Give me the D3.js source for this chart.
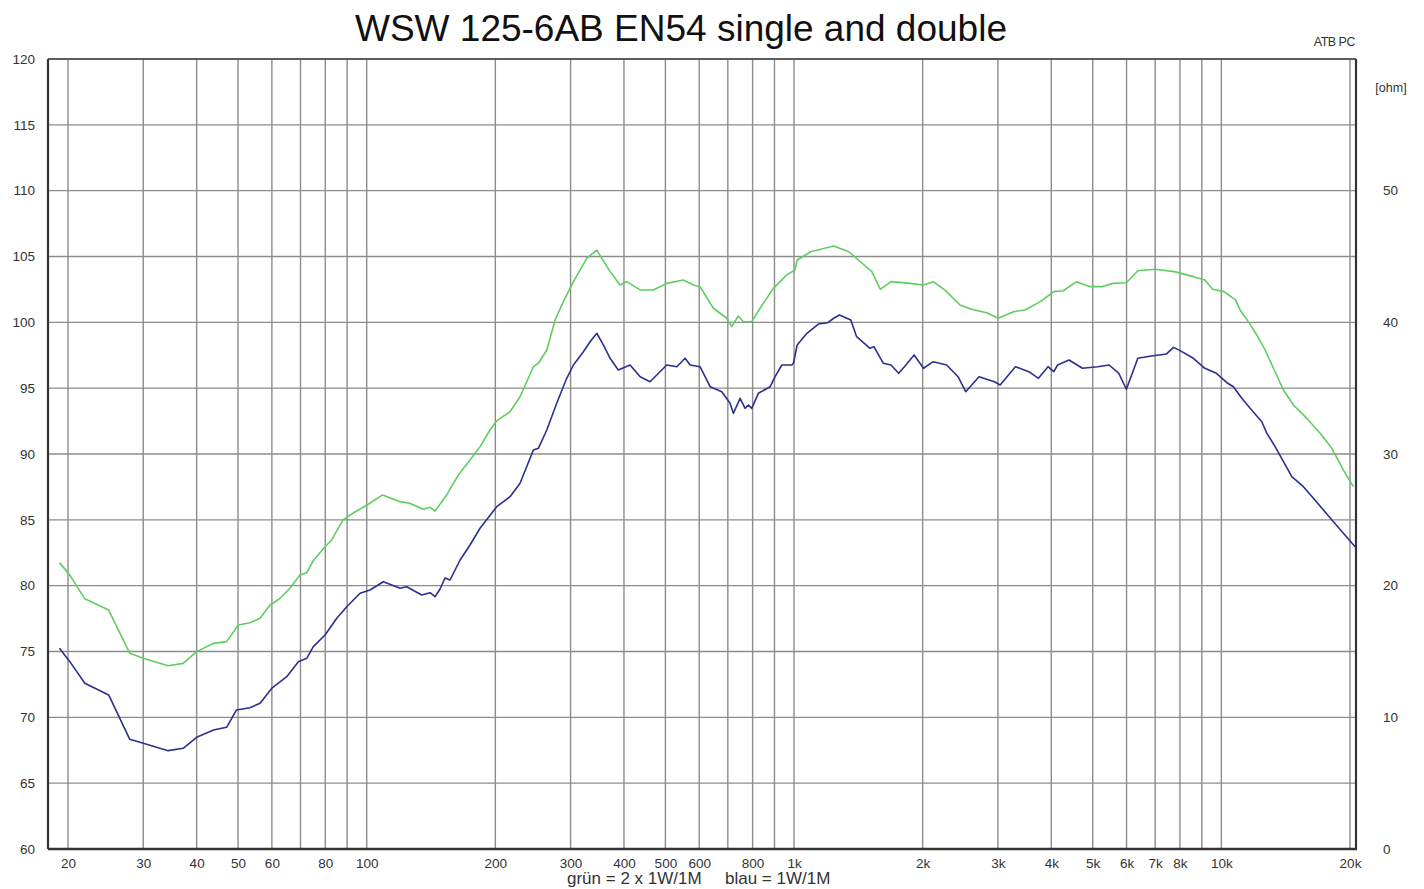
<!DOCTYPE html>
<meta charset="utf-8">
<script src="https://d3js.org/d3.v7.min.js"></script>
<style>
  body { margin: 0; background: #fff; }
  text { font-family: "Liberation Sans", Arial, sans-serif; }
</style>
<div id="chart"></div>
<script>

// frequency / level pairs (Hz, dB)
const greenFreq = [19.1, 20.2, 21.9, 24.9, 27.9, 30.0, 34.3, 37.2, 40.0, 43.8, 47.0, 50.1, 53.3, 56.3, 59.4, 62.7, 66.1, 69.8, 72.4, 75.0,
  79.9, 82.8, 88.0, 93.9, 100.2, 109, 119.7, 126, 135.7, 140.7, 144.5, 153.9, 163.9, 174.5, 184.2, 194.4, 201.5, 216.5, 228.5, 245.5,
  252.2, 263.9, 276, 288.6, 304.6, 327.3, 345.5, 371.2, 391.6, 406, 436.4, 468.6, 503.6, 550.8, 581.4, 602.6, 647.4, 695.8, 714.8, 740.8,
  761, 796.2, 832.8, 894.6, 961.6, 1005, 1017, 1094, 1238, 1344, 1430, 1521, 1592, 1687, 1869, 2009, 2117, 2252, 2446, 2602,
  2825, 3004, 3263, 3470, 3770, 4053, 4266, 4585, 4929, 5245, 5580, 5994, 6376, 6998, 7760, 8602, 9150, 9538, 10142, 10790,
  11063, 11568, 12104, 12658, 13240, 13972, 14746, 15850, 17022, 18135, 19302, 20370];
const greenDb = [81.75, 80.8, 79.0, 78.15, 74.86, 74.48, 73.92, 74.1, 74.99, 75.62, 75.75, 77.01, 77.19, 77.52, 78.53, 79.04, 79.8, 80.81, 80.99, 81.9,
  82.96, 83.47, 84.99, 85.6, 86.13, 86.89, 86.38, 86.26, 85.8, 85.95, 85.67, 86.89, 88.41, 89.55, 90.56, 91.82, 92.51, 93.21, 94.35, 96.63,
  96.89, 97.9, 100.18, 101.57, 103.09, 104.86, 105.49, 103.85, 102.84, 103.09, 102.46, 102.46, 102.96, 103.21, 102.84, 102.71, 101.07, 100.31, 99.67, 100.48,
  100.05, 100.05, 101.07, 102.58, 103.6, 103.97, 104.73, 105.36, 105.8, 105.36, 104.6, 103.85, 102.51, 103.09, 102.96, 102.84, 103.09, 102.46, 101.32, 100.99,
  100.73, 100.31, 100.81, 100.94, 101.57, 102.33, 102.4, 103.09, 102.71, 102.71, 102.96, 103.01, 103.92, 104.03, 103.85, 103.47, 103.21, 102.51, 102.33, 101.7,
  100.94, 100.05, 99.04, 97.9, 96.51, 94.86, 93.72, 92.71, 91.57, 90.43, 88.78, 87.52];

const blueFreq = [19.1, 20.2, 21.9, 24.9, 27.9, 30.0, 34.3, 37.2, 40.0, 43.8, 47.0, 49.6, 53.3, 56.3, 60.0, 65.0, 69.2, 72.4, 75.0, 79.9,
  85.1, 89.8, 96.5, 101.8, 109.4, 119.7, 124.1, 134.5, 140.7, 144.5, 148.4, 152.5, 156.7, 165.4, 174.5, 184.2, 201.5, 216.5, 228.5, 245.5,
  252.2, 263.9, 278.4, 293.8, 304.6, 321.4, 333.2, 345.5, 357.9, 371.2, 387.9, 413.4, 436.4, 460.3, 477.3, 503.6, 531.8, 556, 571.2, 602.6,
  636.3, 677.6, 708.5, 721.2, 747.8, 768.2, 781.9, 796.2, 825.3, 879.4, 903, 936.2, 987.8, 997, 1017, 1072, 1140, 1200, 1238, 1277,
  1358, 1401, 1506, 1538, 1618, 1687, 1757, 1813, 1910, 2009, 2117, 2276, 2420, 2522, 2710, 2944, 3036, 3296, 3544, 3732,
  3930, 4053, 4139, 4400, 4730, 5136, 5464, 5754, 5994, 6376, 6856, 7444, 7727, 8004, 8602, 9150, 9736, 10352, 10668, 11165,
  11675, 12437, 12780, 13359, 13972, 14617, 15560, 16421, 17331, 18291, 19302, 20555];
const blueDb = [75.24, 74.23, 72.59, 71.7, 68.33, 68.03, 67.47, 67.65, 68.48, 69.04, 69.24, 70.56, 70.73, 71.07, 72.21, 73.09, 74.23, 74.48, 75.37, 76.25,
  77.52, 78.4, 79.42, 79.67, 80.3, 79.8, 79.92, 79.29, 79.47, 79.16, 79.73, 80.58, 80.43, 81.95, 83.09, 84.36, 86.0, 86.76, 87.78, 90.3,
  90.43, 91.82, 93.85, 95.75, 96.76, 97.77, 98.53, 99.17, 98.28, 97.27, 96.38, 96.76, 95.87, 95.49, 96.0, 96.76, 96.63, 97.27, 96.76, 96.63,
  95.11, 94.73, 93.85, 93.09, 94.23, 93.47, 93.72, 93.47, 94.61, 95.11, 95.87, 96.76, 96.76, 96.89, 98.28, 99.17, 99.87, 99.97, 100.31, 100.56,
  100.18, 98.91, 98.03, 98.15, 96.89, 96.76, 96.13, 96.63, 97.52, 96.51, 97.01, 96.76, 95.87, 94.73, 95.87, 95.49, 95.24, 96.63, 96.25, 95.75,
  96.63, 96.25, 96.76, 97.14, 96.51, 96.63, 96.76, 96.13, 94.92, 97.27, 97.44, 97.6, 98.1, 97.85, 97.27, 96.51, 96.13, 95.37, 95.11, 94.23,
  93.47, 92.45, 91.57, 90.56, 89.42, 88.28, 87.52, 86.64, 85.75, 84.86, 83.98, 82.96];

const gridFreqs = [20, 30, 40, 50, 60, 70, 80, 90, 100, 200, 300, 400, 500, 600, 700, 800, 900,
  1000, 2000, 3000, 4000, 5000, 6000, 7000, 8000, 9000, 10000, 20000];
const freqTicks = [20, 30, 40, 50, 60, 80, 100, 200, 300, 400, 500, 600, 800,
  1000, 2000, 3000, 4000, 5000, 6000, 7000, 8000, 10000, 20000];
const freqLabels = ["20", "30", "40", "50", "60", "80", "100", "200", "300", "400", "500", "600", "800",
  "1k", "2k", "3k", "4k", "5k", "6k", "7k", "8k", "10k", "20k"];
const dbTicks = [60, 65, 70, 75, 80, 85, 90, 95, 100, 105, 110, 115, 120];
const ohmTicks = [0, 10, 20, 30, 40, 50];

const W = 1424, H = 889;
const plot = {left: 48, right: 1356, top: 59, bottom: 849};

const svg = d3.select("#chart").append("svg")
  .attr("width", W).attr("height", H)
  .style("background", "#fff");

const x = d3.scaleLog().domain([20, 20000]).range([68, 1350]);
const y = d3.scaleLinear().domain([60, 120]).range([plot.bottom, plot.top]);
const yOhm = d3.scaleLinear().domain([0, 60]).range([plot.bottom, plot.top]);

// grid
svg.append("g").selectAll("line")
  .data(gridFreqs).join("line")
    .attr("x1", d => x(d)).attr("x2", d => x(d))
    .attr("y1", plot.top).attr("y2", plot.bottom)
    .attr("stroke", "#8c8c8c").attr("stroke-width", 1.4);

svg.append("g").selectAll("line")
  .data(dbTicks).join("line")
    .attr("x1", plot.left).attr("x2", plot.right)
    .attr("y1", d => y(d)).attr("y2", d => y(d))
    .attr("stroke", "#8c8c8c").attr("stroke-width", 1.4);

// frame
svg.append("line").attr("x1", plot.left).attr("x2", plot.right)
  .attr("y1", plot.top).attr("y2", plot.top)
  .attr("stroke", "#444").attr("stroke-width", 1.6);
svg.append("line").attr("x1", plot.left).attr("x2", plot.right + 1)
  .attr("y1", plot.bottom).attr("y2", plot.bottom)
  .attr("stroke", "#333").attr("stroke-width", 2.6);
svg.append("line").attr("x1", plot.left).attr("x2", plot.left)
  .attr("y1", plot.top).attr("y2", plot.bottom)
  .attr("stroke", "#333").attr("stroke-width", 2.2);
svg.append("line").attr("x1", plot.right).attr("x2", plot.right)
  .attr("y1", plot.top).attr("y2", plot.bottom)
  .attr("stroke", "#333").attr("stroke-width", 2.2);

// axes
const styleAxis = g => {
  g.select(".domain").remove();
  g.selectAll("text").attr("fill", "#333").style("font-size", "13.5px")
    .style("font-family", "'Liberation Sans', Arial, sans-serif");
};

svg.append("g")
  .attr("transform", `translate(${plot.left},0)`)
  .call(d3.axisLeft(y).tickValues(dbTicks).tickSize(0).tickPadding(13))
  .call(styleAxis);

svg.append("g")
  .attr("transform", `translate(${plot.right},0)`)
  .call(d3.axisRight(yOhm).tickValues(ohmTicks).tickSize(0).tickPadding(27))
  .call(styleAxis);

svg.append("g")
  .attr("transform", `translate(0,${plot.bottom})`)
  .call(d3.axisBottom(x).tickValues(freqTicks).tickSize(0).tickPadding(9)
    .tickFormat((d, i) => freqLabels[i]))
  .call(styleAxis);

// curves
const line = d3.line().x(d => x(d[0])).y(d => y(d[1]));

svg.append("path")
  .datum(d3.zip(greenFreq, greenDb))
  .attr("fill", "none").attr("stroke", "#5fcd5f")
  .attr("stroke-width", 1.6).attr("stroke-linejoin", "round")
  .attr("d", line);

svg.append("path")
  .datum(d3.zip(blueFreq, blueDb))
  .attr("fill", "none").attr("stroke", "#2c2f8e")
  .attr("stroke-width", 1.6).attr("stroke-linejoin", "round")
  .attr("d", line);

// texts
svg.append("text")
  .attr("x", 681).attr("y", 41)
  .attr("text-anchor", "middle")
  .style("font-size", "37px").attr("fill", "#111")
  .text("WSW 125-6AB EN54 single and double");

svg.append("text")
  .attr("x", 1355).attr("y", 46)
  .attr("text-anchor", "end")
  .style("font-size", "12.5px").attr("fill", "#333")
  .style("letter-spacing", "-0.5px")
  .text("ATB PC");

svg.append("text")
  .attr("x", 1391).attr("y", 92)
  .attr("text-anchor", "middle")
  .style("font-size", "12.5px").attr("fill", "#333")
  .text("[ohm]");

svg.append("text")
  .attr("x", 567).attr("y", 884)
  .style("font-size", "17px").attr("fill", "#333")
  .text("grün = 2 x 1W/1M");

svg.append("text")
  .attr("x", 725).attr("y", 884)
  .style("font-size", "17px").attr("fill", "#333")
  .text("blau = 1W/1M");

</script>
